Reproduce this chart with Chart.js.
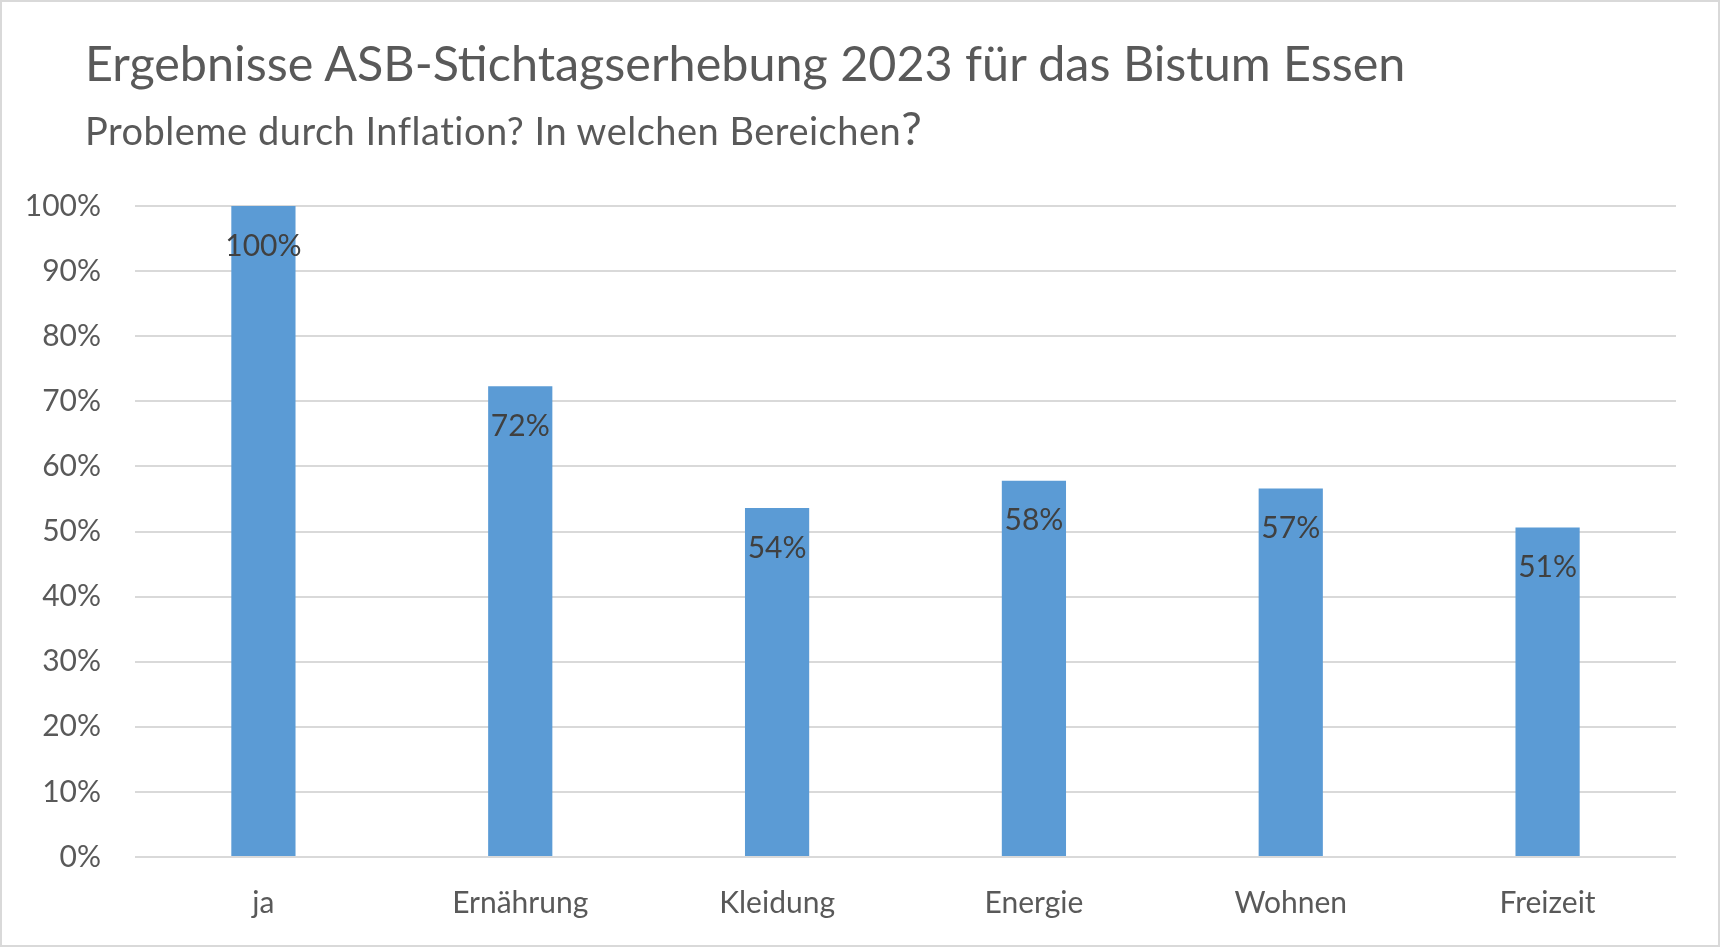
<!DOCTYPE html>
<html>
<head>
<meta charset="utf-8">
<script src="https://cdn.jsdelivr.net/npm/chart.js@4.4.0/dist/chart.umd.min.js"></script>
<style>
html, body { margin: 0; padding: 0; background: #fff; }
#wrap { position: relative; width: 1720px; height: 947px; overflow: hidden; }
#chart { position: absolute; left: 0; top: 0; }
#frame { position: absolute; left: 0; top: 0; width: 1720px; height: 947px; box-sizing: border-box;
         border: 2px solid #d9d9d9; pointer-events: none; }
.title { position: absolute; left: 85px; font-family: Lato, sans-serif; color: #595959;
         white-space: nowrap; line-height: 1; }
#t1 { top: 38px; font-size: 48.5px; }
#t2 { top: 105px; font-size: 38px; letter-spacing: 0.5px; }
#t2 span { font-size: 46px; }
</style>
</head>
<body>
<div id="wrap">
  <canvas id="chart" width="1720" height="947"></canvas>
  <div class="title" id="t1">Ergebnisse ASB-Stichtagserhebung 2023 für das Bistum Essen</div>
  <div class="title" id="t2">Probleme durch Inflation? In welchen Bereichen<span>?</span></div>
  <div id="frame"></div>
</div>
<script>
var categories = ['ja', 'Ernährung', 'Kleidung', 'Energie', 'Wohnen', 'Freizeit'];
var shares = [100, 72.3, 53.6, 57.8, 56.6, 50.6];

// Percent labels inside the top of each bar
var barLabels = {
    id: 'barLabels',
    afterDatasetsDraw: function (chart) {
        var ctx = chart.ctx;
        var meta = chart.getDatasetMeta(0);
        ctx.save();
        ctx.font = '30px Lato';
        ctx.fillStyle = '#404040';
        ctx.textAlign = 'center';
        ctx.textBaseline = 'middle';
        meta.data.forEach(function (bar, i) {
            ctx.fillText(Math.round(shares[i]) + '%', bar.x, bar.y + 40);
        });
        ctx.restore();
    }
};

function draw() {
    var ctx = document.getElementById('chart').getContext('2d');
    var chart = new Chart(ctx, {
        type: 'bar',
        data: {
            labels: categories,
            datasets: [{
                data: shares,
                backgroundColor: '#5b9bd5',
                borderWidth: 0,
                barPercentage: 0.25,
                categoryPercentage: 1
            }]
        },
        options: {
            responsive: false,
            animation: false,
            layout: {
                padding: { top: 206, right: 44, bottom: 6, left: 0 }
            },
            plugins: {
                legend: { display: false },
                tooltip: { enabled: false }
            },
            scales: {
                x: {
                    grid: { display: false },
                    border: { display: false },
                    ticks: {
                        color: '#595959',
                        font: { family: 'Lato', size: 30 },
                        padding: 20
                    }
                },
                y: {
                    min: 0,
                    max: 100,
                    afterFit: function (scale) { scale.width = 135; },
                    grid: { color: '#d9d9d9', lineWidth: 2, drawTicks: false },
                    border: { display: false },
                    ticks: {
                        stepSize: 10,
                        color: '#595959',
                        font: { family: 'Lato', size: 30 },
                        padding: 34,
                        callback: function (v) { return v + '%'; }
                    }
                }
            }
        },
        plugins: [barLabels]
    });
}

if (document.fonts && document.fonts.load) {
    document.fonts.load('30px Lato').then(draw, draw);
} else {
    draw();
}
</script>
</body>
</html>
